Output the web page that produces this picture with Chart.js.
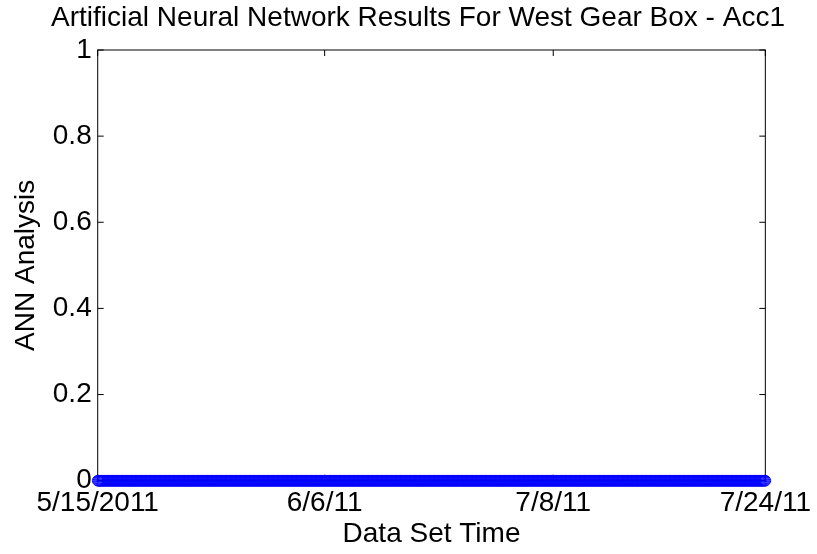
<!DOCTYPE html>
<html>
<head>
<meta charset="utf-8">
<title>ANN Analysis - West Gear Box Acc1</title>
<script src="https://cdn.jsdelivr.net/npm/chart.js@4/dist/chart.umd.min.js"></script>
<style>
  html, body { margin: 0; padding: 0; background: #ffffff; }
  #wrap { width: 817px; height: 554px; position: relative; }
</style>
</head>
<body>
<div id="wrap"><canvas id="annChart" width="817" height="554"></canvas></div>
<script>
// ANN output for each data set (index 1..N); every set classified as 0
const annOutput = [
  0,0,0,0,0,0,0,0,0,0,0,0,0,0,0,0,0,0,0,0,0,0,0,0,0,0,0,0,0,0,
  0,0,0,0,0,0,0,0,0,0,0,0,0,0,0,0,0,0,0,0,0,0,0,0,0,0,0,0,0,0,
  0,0,0,0,0,0,0,0,0,0,0,0,0,0,0,0,0,0,0,0,0,0,0,0,0,0,0,0,0,0,
  0,0,0,0,0,0,0,0,0,0,0,0,0,0,0,0,0,0,0,0,0,0,0,0,0,0,0,0,0,0,
  0,0,0,0,0,0,0,0,0,0,0,0,0,0,0,0,0,0,0,0,0,0,0,0,0,0,0,0,0,0,
  0,0,0,0,0,0,0,0,0,0,0,0,0,0,0,0,0,0,0,0,0,0,0,0,0,0,0,0,0,0,
  0,0,0,0,0,0,0,0,0,0,0,0,0,0,0,0,0,0,0,0,0,0,0,0,0,0,0,0,0,0,
  0,0,0,0,0,0,0,0,0,0,0,0,0,0,0,0,0,0,0,0,0,0,0,0,0,0,0,0,0,0,
  0,0,0,0,0,0,0,0,0,0,0,0,0,0,0,0,0,0,0,0,0,0,0,0,0,0,0,0,0,0,
  0,0,0,0,0,0,0,0,0,0,0,0,0,0,0,0,0,0,0,0,0,0,0,0,0,0,0,0,0,0,
  0,0,0,0,0,0,0,0,0,0,0,0,0,0,0,0,0,0,0,0,0,0,0,0,0,0,0,0,0,0,
  0,0,0,0,0,0,0,0,0,0,0,0,0,0,0,0,0,0,0,0,0,0,0,0,0,0,0,0,0,0,
  0,0,0,0,0,0,0,0,0,0,0,0,0,0,0,0,0,0,0,0,0,0,0,0,0,0,0,0,0,0,
  0,0,0,0,0,0,0,0,0,0,0,0,0,0,0,0,0,0,0,0,0,0,0,0,0,0,0,0,0,0,
  0,0,0,0,0,0,0,0,0,0,0,0,0,0,0,0,0,0,0,0,0,0,0,0,0,0,0,0,0,0,
  0,0,0,0,0,0,0,0,0,0,0,0,0,0,0,0,0,0,0,0,0,0,0,0,0,0,0,0,0,0,
  0,0,0,0,0,0,0,0,0,0,0,0,0,0,0,0,0,0,0,0,0,0,0,0,0,0,0,0,0,0,
  0,0,0,0,0,0,0,0,0,0,0,0,0,0,0,0,0,0,0,0,0,0,0,0,0,0,0,0,0,0,
  0,0,0,0,0,0,0,0,0,0,0,0,0,0,0,0,0,0,0,0,0,0,0,0,0,0,0,0,0,0,
  0,0,0,0,0,0,0,0,0,0,0,0,0,0,0,0,0,0,0,0,0,0,0,0,0,0,0,0,0,0,
  0,0,0,0,0,0,0,0,0,0,0,0,0,0,0,0,0,0,0,0,0,0,0,0,0,0,0,0,0,0,
  0,0,0,0,0,0,0,0,0,0,0,0,0,0,0,0,0,0,0,0,0,0,0,0,0,0,0,0,0,0,
  0,0,0,0,0,0,0,0,0,0,0,0,0,0,0,0,0,0,0,0,0,0,0,0,0,0,0,0,0,0,
  0,0,0,0,0,0,0,0,0,0,0,0,0,0,0,0,0,0,0,0,0,0,0,0,0,0,0,0,0,0,
  0,0,0,0,0,0,0,0,0,0,0,0,0,0,0,0,0,0,0,0,0,0,0,0,0,0,0,0,0,0,
  0,0,0,0,0,0,0,0,0,0,0,0,0,0,0,0,0,0,0,0,0,0,0,0,0,0,0,0,0,0,
  0,0,0,0,0,0,0,0,0,0,0,0,0,0,0,0,0,0,0,0,0,0,0,0,0,0,0,0,0,0
];

// Data-set index where each date label sits, and the labels themselves
const timeTickIndex  = [1, 276, 553, 810];
const timeTickLabels = ['5/15/2011', '6/6/11', '7/8/11', '7/24/11'];

// Y axis ticks
const yTickValues = [0, 0.2, 0.4, 0.6, 0.8, 1];

const chartTitle = 'Artificial Neural Network Results For West Gear Box - Acc1';

const FONT = 'Liberation Sans, Arial, Helvetica, sans-serif';
const FS = 28;

const points = annOutput.map((v, i) => ({ x: i + 1, y: v }));

// Figure title, centred over the figure
const figureTitle = {
  id: 'figureTitle',
  afterDraw(chart) {
    const { ctx } = chart;
    ctx.save();
    ctx.font = `${FS}px ${FONT}`;
    ctx.fillStyle = '#000000';
    ctx.textAlign = 'center';
    ctx.textBaseline = 'middle';
    ctx.fillText(chartTitle, 418, 18.5);
    ctx.restore();
  }
};

// Box around the axes plus inward-pointing tick marks on all four sides,
// drawn underneath the data markers
const boxTicks = {
  id: 'boxTicks',
  beforeDatasetsDraw(chart) {
    const { ctx, chartArea: a, scales } = chart;
    const len = 6;
    ctx.save();
    ctx.strokeStyle = '#000000';
    ctx.lineWidth = 1;
    ctx.beginPath();
    scales.y.ticks.forEach(t => {
      const py = scales.y.getPixelForValue(t.value);
      ctx.moveTo(a.left, py); ctx.lineTo(a.left + len, py);
      ctx.moveTo(a.right, py); ctx.lineTo(a.right - len, py);
    });
    scales.x.ticks.forEach(t => {
      const px = scales.x.getPixelForValue(t.value);
      ctx.moveTo(px, a.bottom); ctx.lineTo(px, a.bottom - len);
      ctx.moveTo(px, a.top); ctx.lineTo(px, a.top + len);
    });
    ctx.stroke();
    ctx.strokeRect(a.left, a.top, a.right - a.left, a.bottom - a.top);
    ctx.restore();
  }
};

const noGrid = {
  display: true,
  drawOnChartArea: false,
  drawTicks: false,
  tickLength: 0,
  color: 'rgba(0,0,0,0)'
};

new Chart(document.getElementById('annChart'), {
  type: 'line',
  data: {
    datasets: [{
      data: points,
      borderColor: '#0000ff',
      borderWidth: 1,
      backgroundColor: 'rgba(0,0,0,0)',
      pointRadius: 5.3,
      pointBorderWidth: 1,
      pointBorderColor: '#0000ff',
      pointBackgroundColor: 'rgba(0,0,0,0)',
      pointStyle: 'circle',
      tension: 0,
      clip: false
    }]
  },
  plugins: [boxTicks, figureTitle],
  options: {
    responsive: false,
    animation: false,
    events: [],
    layout: { padding: { left: 0, right: 50.3, top: 50, bottom: 0 } },
    plugins: {
      legend: { display: false },
      tooltip: { enabled: false },
      title: { display: false }
    },
    scales: {
      x: {
        type: 'linear',
        min: timeTickIndex[0],
        max: timeTickIndex[timeTickIndex.length - 1],
        grid: noGrid,
        border: { display: false },
        afterBuildTicks(scale) {
          scale.ticks = timeTickIndex.map(v => ({ value: v }));
        },
        afterFit(scale) { scale.height = 73.3; },
        ticks: {
          autoSkip: false,
          maxRotation: 0,
          minRotation: 0,
          padding: 6,
          color: '#000000',
          font: { family: FONT, size: FS },
          callback(value) {
            const k = timeTickIndex.indexOf(value);
            return k >= 0 ? timeTickLabels[k] : '';
          }
        },
        title: {
          display: true,
          text: 'Data Set Time',
          color: '#000000',
          font: { family: FONT, size: FS, lineHeight: 1.2 },
          padding: { top: 0, bottom: 2.7 }
        }
      },
      y: {
        type: 'linear',
        min: 0,
        max: 1,
        grid: noGrid,
        border: { display: false },
        afterBuildTicks(scale) {
          scale.ticks = yTickValues.map(v => ({ value: v }));
        },
        afterFit(scale) { scale.width = 97.7; },
        ticks: {
          padding: 6,
          color: '#000000',
          font: { family: FONT, size: FS },
          callback(value) { return String(value); }
        },
        title: {
          display: true,
          text: 'ANN Analysis',
          color: '#000000',
          font: { family: FONT, size: FS, lineHeight: 1.2 },
          padding: { top: 9.5, bottom: 0 }
        }
      }
    }
  }
});
</script>
</body>
</html>
